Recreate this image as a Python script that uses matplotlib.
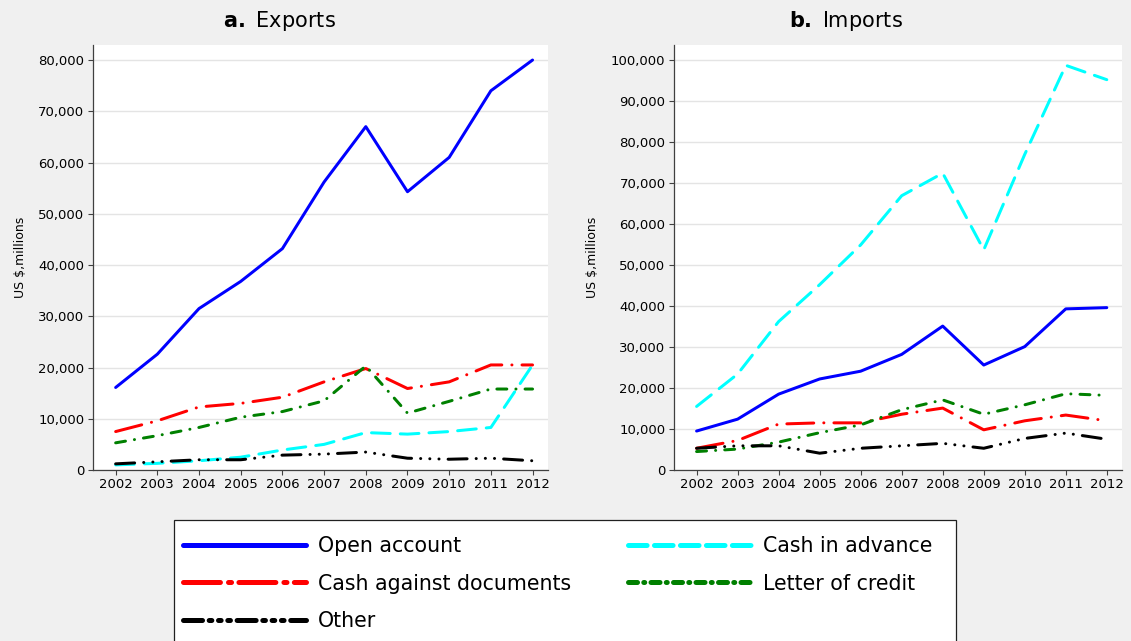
import matplotlib
matplotlib.use("Agg")
import matplotlib.pyplot as plt
from matplotlib.lines import Line2D
from matplotlib.patches import Rectangle
from matplotlib.ticker import FuncFormatter

plt.rcParams.update({
    "font.family": ["DejaVu Sans"],
    "lines.scale_dashes": False,
    "xtick.labelsize": 9.5,
    "ytick.labelsize": 9.5,
    "xtick.major.size": 3.6,
    "ytick.major.size": 3.6,
    "xtick.major.pad": 2.5,
    "ytick.major.pad": 2.5,
    "xtick.color": "#404040",
    "ytick.color": "#404040",
    "xtick.labelcolor": "black",
    "ytick.labelcolor": "black",
})

years = list(range(2002, 2013))
series = ["Open account", "Cash in advance", "Cash against documents",
          "Letter of credit", "Other"]

# exports, US $ millions
exp_open = [16100, 22600, 31500, 36800, 43200, 56200, 67000, 54300, 61000, 74000, 80000]
exp_cia = [1000, 1300, 1800, 2500, 3900, 5000, 7300, 7000, 7500, 8300, 20500]
exp_cad = [7500, 9600, 12300, 13000, 14200, 17200, 19800, 15900, 17200, 20500, 20500]
exp_loc = [5300, 6700, 8300, 10300, 11400, 13500, 20300, 11100, 13400, 15800, 15800]
exp_oth = [1200, 1600, 2000, 2000, 2900, 3100, 3500, 2300, 2100, 2300, 1800]

# imports
imp_open = [9500, 12400, 18500, 22200, 24100, 28200, 35100, 25600, 30100, 39300, 39600]
imp_cia = [15500, 23400, 36200, 45200, 54900, 66900, 72400, 53700, 77000, 98700, 95200]
imp_cad = [5300, 7200, 11200, 11500, 11500, 13600, 15100, 9800, 12000, 13400, 12000]
imp_loc = [4500, 5100, 6800, 9100, 11000, 14700, 17100, 13600, 15900, 18600, 18200]
imp_oth = [5300, 5900, 5900, 4100, 5300, 5900, 6500, 5300, 7700, 9000, 7500]

colors = {"Open account": "#0000ff", "Cash in advance": "#00ffff",
          "Cash against documents": "#ff0000", "Letter of credit": "#008000",
          "Other": "#000000"}
# dash patterns (points) for plot lines and for the thicker legend keys
plot_dash = {"Open account": None,
             "Cash in advance": (13.5, 7.2),
             "Cash against documents": (19.4, 7.2, 0.1, 7.2),
             "Letter of credit": (7.2, 6.5, 0.1, 6.5),
             "Other": (13.7, 6.5, 0.1, 6.5, 0.1, 6.5, 0.1, 6.5)}
key_dash = {"Open account": None,
            "Cash in advance": (13.4, 5.3),
            "Cash against documents": (26.6, 5.8, 2.2, 5.3),
            "Letter of credit": (6.5, 4.5, 0.7, 4.5),
            "Other": (13.7, 4.8, 1.9, 4.8, 1.9, 4.8, 1.9, 4.8)}

W, H = 1131, 641
fig = plt.figure(figsize=(W / 100, H / 100), dpi=100, facecolor="#f0f0f0")


def px_axes(left, top, right, bottom):
    return fig.add_axes([left / W, 1 - bottom / H, (right - left) / W,
                         (bottom - top) / H])


def draw_panel(ax, data, ymax, step):
    ax.set_facecolor("white")
    for name in series:
        kw = dict(color=colors[name], lw=2.16, solid_capstyle="round",
                  dash_capstyle="round", solid_joinstyle="round")
        if plot_dash[name] is not None:
            kw["dashes"] = plot_dash[name]
        ax.plot(years, data[name], **kw)
    ax.set_xlim(2001.45, 2012.37)
    ax.set_ylim(0, ymax)
    ax.set_xticks(years)
    ax.set_yticks(range(0, int(ymax), step))
    ax.yaxis.set_major_formatter(FuncFormatter(lambda v, p: f"{v:,.0f}"))
    ax.grid(axis="y", color="#e4e4e4", lw=1.0)
    ax.set_axisbelow(True)
    for s in ["top", "right"]:
        ax.spines[s].set_visible(False)
    for s in ["left", "bottom"]:
        ax.spines[s].set_color("#404040")
        ax.spines[s].set_linewidth(0.9)


ax1 = px_axes(92.7, 45, 548, 470)
draw_panel(ax1, dict(zip(series, [exp_open, exp_cia, exp_cad, exp_loc, exp_oth])),
           82930, 10000)
ax2 = px_axes(674, 45, 1122, 470)
draw_panel(ax2, dict(zip(series, [imp_open, imp_cia, imp_cad, imp_loc, imp_oth])),
           103660, 10000)

fig.text(279 / W, 1 - 27 / H, r"$\mathbf{a.}$ Exports", ha="center",
         va="baseline", fontsize=15)
fig.text(846 / W, 1 - 27 / H, r"$\mathbf{b.}$ Imports", ha="center",
         va="baseline", fontsize=15)
fig.text(20.5 / W, 1 - 257 / H, "US $,millions", rotation=90, ha="center",
         va="center", fontsize=9)
fig.text(592 / W, 1 - 257 / H, "US $,millions", rotation=90, ha="center",
         va="center", fontsize=9)

# legend box, runs off the bottom edge
fig.add_artist(Rectangle((174 / W, -0.01), (956 - 174) / W, 0.01 + (H - 520) / H,
                         transform=fig.transFigure, facecolor="white",
                         edgecolor="#202020", lw=0.9, zorder=0))


def key(name):
    kw = dict(color=colors[name], lw=3.6, solid_capstyle="round",
              dash_capstyle="round")
    if key_dash[name] is not None:
        kw["dashes"] = key_dash[name]
    return Line2D([], [], **kw)


leg_kw = dict(loc="upper left", frameon=False, borderpad=0, fontsize=14.8,
              handlelength=6.0, handletextpad=0.58, labelspacing=0.86,
              borderaxespad=0)
col1 = ["Open account", "Cash against documents", "Other"]
col2 = ["Cash in advance", "Letter of credit"]
fig.legend([key(n) for n in col1], col1, bbox_to_anchor=(183 / W, 1 - 536 / H),
           **leg_kw)
fig.legend([key(n) for n in col2], col2, bbox_to_anchor=(628 / W, 1 - 536 / H),
           **leg_kw)

fig.savefig("out.png", dpi=100, facecolor=fig.get_facecolor())
